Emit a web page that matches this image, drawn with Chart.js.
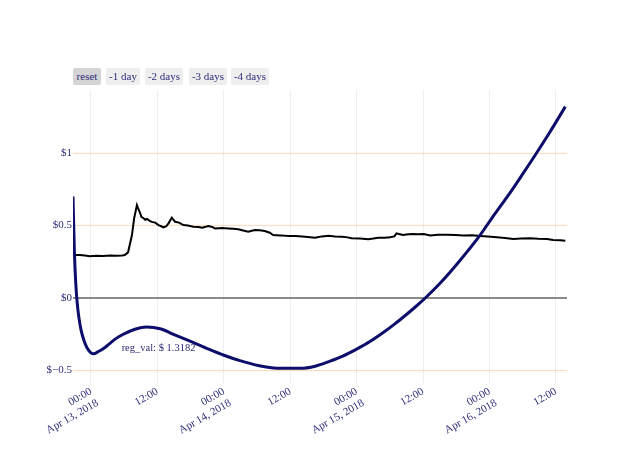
<!DOCTYPE html>
<html>
<head>
<meta charset="utf-8">
<script src="https://cdn.jsdelivr.net/npm/chart.js@4.4.0/dist/chart.umd.min.js"></script>
<style>
  body { margin: 0; background: #fff; }
  #wrap { position: relative; width: 640px; height: 457px; }
  .btn {
    position: absolute; top: 68px; height: 17px; line-height: 17px;
    background: #eeeeee; border-radius: 2px; text-align: center;
    font-family: "Liberation Serif", serif; font-size: 11px; color: #2c2c7a;
  }
  .btn.active { background: #d4d4d4; }
</style>
</head>
<body>
<div id="wrap">
  <canvas id="grafico" width="640" height="457"></canvas>
  <div class="btn active" style="left:73px;width:28px">reset</div>
  <div class="btn" style="left:106px;width:34px">-1 day</div>
  <div class="btn" style="left:145px;width:38px">-2 days</div>
  <div class="btn" style="left:189px;width:38px">-3 days</div>
  <div class="btn" style="left:231px;width:38px">-4 days</div>
</div>
<script>
// horas contadas a partir de Apr 13, 2018 00:00
const priceHours = [-3.2, -2.0, -1.1, -0.2, 0.9, 2.2, 3.4, 4.6, 5.6, 6.1, 6.7, 7.4, 7.8, 8.3, 8.5, 8.9, 9.1, 9.5, 9.8, 10.1,
  10.7, 11.0, 11.6, 12.2, 12.7, 13.1, 13.6, 14.0, 14.6, 15.2, 15.9, 16.7, 17.5, 18.5, 19.4, 20.1, 21.2, 21.9, 22.4, 23.7,
  24.8, 25.7, 26.6, 27.5, 28.4, 29.6, 30.5, 31.4, 32.3, 32.9, 34.2, 35.7, 37.0, 38.7, 40.5, 41.7, 42.9, 44.1, 45.3, 46.1,
  47.1, 48.6, 50.1, 51.0, 51.9, 53.1, 54.0, 54.8, 55.2, 55.8, 56.4, 57.3, 58.2, 59.1, 60.1, 61.3, 62.7, 64.3, 65.8, 67.3,
  68.9, 70.3, 71.7, 73.3, 74.8, 76.3, 77.7, 79.3, 80.8, 82.4, 83.5, 84.8, 85.7];
const priceValues = [0.297, 0.297, 0.293, 0.288, 0.291, 0.29, 0.293, 0.292, 0.294, 0.297, 0.315, 0.434, 0.55, 0.641, 0.62, 0.584, 0.56, 0.55, 0.54, 0.545,
  0.531, 0.525, 0.52, 0.503, 0.495, 0.487, 0.495, 0.515, 0.554, 0.526, 0.52, 0.503, 0.5, 0.492, 0.49, 0.485, 0.497, 0.49, 0.48, 0.483,
  0.48, 0.478, 0.474, 0.465, 0.457, 0.469, 0.467, 0.462, 0.45, 0.434, 0.432, 0.428, 0.427, 0.423, 0.416, 0.425, 0.43, 0.425, 0.423, 0.42,
  0.412, 0.41, 0.405, 0.41, 0.416, 0.416, 0.419, 0.425, 0.446, 0.44, 0.434, 0.44, 0.441, 0.44, 0.441, 0.432, 0.436, 0.437, 0.434, 0.432,
  0.433, 0.428, 0.424, 0.419, 0.414, 0.407, 0.41, 0.412, 0.408, 0.407, 0.4, 0.398, 0.395];

// curva de regressao
const regHours = [-3.25, -3.0, -2.75, -2.5, -2.2, -1.8, -1.3, -0.7, 0.0, 0.5, 1.3, 2.2, 3.2, 4.3, 5.84, 7.95, 10.06, 12.5, 14.9,
  17.9, 20.9, 23.9, 26.9, 30.2, 33.6, 37.8, 40.5, 43.2, 45.5, 48.0, 50.4, 52.8, 54.9, 57.1, 58.8, 60.4, 63.1, 66.7, 70.3,
  72.4, 75.7, 78.1, 80.5, 83.0, 85.7];
const regValues = [0.70, 0.32, 0.10, -0.03, -0.13, -0.22, -0.29, -0.345, -0.378, -0.385, -0.37, -0.35, -0.32, -0.285, -0.25, -0.215, -0.20, -0.212, -0.25,
  -0.298, -0.347, -0.393, -0.432, -0.465, -0.484, -0.485, -0.47, -0.435, -0.40, -0.352, -0.30, -0.238, -0.178, -0.11, -0.055, 0.0, 0.103, 0.261, 0.434,
  0.55, 0.725, 0.861, 1.0, 1.15, 1.32];

const xTicks = [0, 12, 24, 36, 48, 60, 72, 84];
const yTicks = [-0.5, 0, 0.5, 1];
const annotText = "reg_val: $ 1.3182";
const annotPos = [12.2, -0.345];

const corTexto = "#2c2c7a";
const fonte = { family: "'Liberation Serif', serif", size: 11 };

// texto da anotacao
const annotPlugin = {
  id: "annot",
  afterDatasetsDraw(chart) {
    const { ctx, scales } = chart;
    ctx.save();
    ctx.font = "10.5px 'Liberation Serif', serif";
    ctx.fillStyle = corTexto;
    ctx.textAlign = "center";
    ctx.textBaseline = "middle";
    ctx.fillText(annotText, scales.x.getPixelForValue(annotPos[0]), scales.y.getPixelForValue(annotPos[1]));
    ctx.restore();
  }
};

new Chart(document.getElementById("grafico"), {
  type: "line",
  data: {
    datasets: [{
      label: "reg",
      data: regHours.map((h, i) => ({ x: h, y: regValues[i] })),
      borderColor: "#0d0d6b",
      borderWidth: 3,
      pointRadius: 0,
      tension: 0.4,
      cubicInterpolationMode: "monotone",
      order: 0
    }, {
      label: "price",
      data: priceHours.map((h, i) => ({ x: h, y: priceValues[i] })),
      borderColor: "#000000",
      borderWidth: 2,
      pointRadius: 0,
      tension: 0,
      order: 1
    }]
  },
  options: {
    responsive: false,
    animation: false,
    layout: { padding: { top: 90, right: 73, left: 0, bottom: 0 } },
    plugins: { legend: { display: false }, tooltip: { enabled: false } },
    scales: {
      x: {
        type: "linear",
        min: -3.25,
        max: 86,
        afterBuildTicks: s => { s.ticks = xTicks.map(v => ({ value: v })); },
        afterFit: s => { s.height = 74; },
        border: { display: false },
        grid: { color: "#eeeeee", lineWidth: 1, drawTicks: false },
        ticks: {
          minRotation: 30,
          maxRotation: 30,
          padding: 2,
          color: corTexto,
          font: fonte,
          callback: v => v % 24 === 0 ? ["00:00", "Apr " + (13 + v / 24) + ", 2018"] : "12:00"
        }
      },
      y: {
        min: -0.586,
        max: 1.4345,
        afterBuildTicks: s => { s.ticks = yTicks.map(v => ({ value: v })); },
        afterFit: s => { s.width = 73; },
        border: { display: false },
        grid: {
          drawTicks: false,
          color: c => c.tick && c.tick.value === 0 ? "#8a8a8a" : "#fcdcbc",
          lineWidth: c => c.tick && c.tick.value === 0 ? 2 : 1
        },
        ticks: {
          padding: 1,
          color: corTexto,
          font: fonte,
          callback: v => v < 0 ? "$\u2212" + Math.abs(v) : "$" + v
        }
      }
    }
  },
  plugins: [annotPlugin]
});
</script>
</body>
</html>
